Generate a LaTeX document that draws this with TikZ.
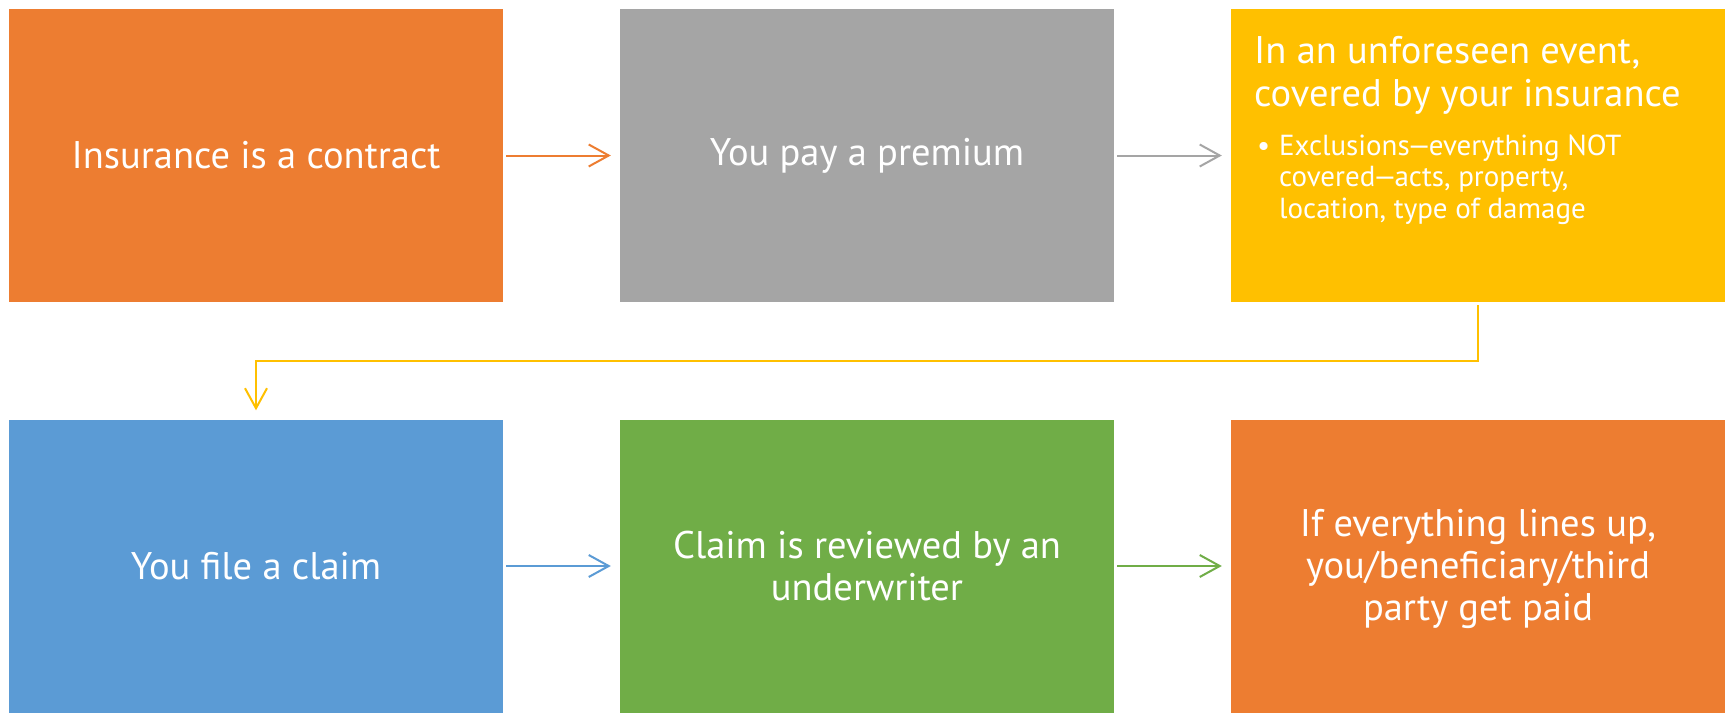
\documentclass[tikz,border=0pt]{standalone}
\usepackage{fontspec}
\setmainfont{PT Sans}
\usetikzlibrary{arrows.meta}
\definecolor{corange}{HTML}{ED7D31}
\definecolor{cgray}{HTML}{A5A5A5}
\definecolor{cyellow}{HTML}{FFC000}
\definecolor{cblue}{HTML}{5B9BD5}
\definecolor{cgreen}{HTML}{70AD47}
\newcommand{\tightdash}{\kern-0.08em—\kern-0.08em}
\begin{document}
\begin{tikzpicture}[x=1pt,y=-1pt,
  box/.style={rectangle, inner sep=0pt, minimum width=494pt, minimum height=293pt,
    text=white, align=center, font=\fontsize{38.5}{42}\selectfont},
  conn/.style={line width=2pt, -{Straight Barb[length=20pt,width=22pt]},
    shorten <=3pt, shorten >=9pt},
  tx/.style={inner sep=0pt, text=white, align=left}]
\useasboundingbox (0,0) rectangle (1729,712);
\fill[white] (0,0) rectangle (1729,712);
\node[box, fill=corange] (b1) at (256,155.5) {Insurance is a contract};
\node[box, fill=cgray]   (b2) at (867,155.5) {You pay a premium};
\node[box, fill=cyellow] (b3) at (1478,155.5) {};
\node[box, fill=cblue]   (b4) at (256,566) {You file a claim};
\node[box, fill=cgreen]  (b5) at (867,566) {Claim is reviewed by an\\underwriter};
\node[box, fill=corange] (b6) at (1478,566) {\rule{0pt}{34pt}If everything lines up,\\you/beneficiary/third\\party get paid};
\node[tx, anchor=base west, font=\fontsize{38.5}{43}\selectfont] (t3) at (1254,106)
  {In an unforeseen event,\\covered by your insurance};
\node[tx, anchor=base west, font=\fontsize{29}{31.5}\selectfont] (t3b) at (1257,218)
  {\makebox[22pt][l]{•}Exclusions\tightdash everything NOT\\\hspace*{22pt}covered\tightdash acts, property,\\\hspace*{22pt}location, type of damage};
\coordinate (bend) at (1478,361);
\draw[conn, corange] (b1) -- (b2);
\draw[conn, cgray] (b2) -- (b3);
\draw[conn, cyellow] (b3.south) -- (bend) -| (b4.north);
\draw[conn, cblue] (b4) -- (b5);
\draw[conn, cgreen] (b5) -- (b6);
\end{tikzpicture}
\end{document}
